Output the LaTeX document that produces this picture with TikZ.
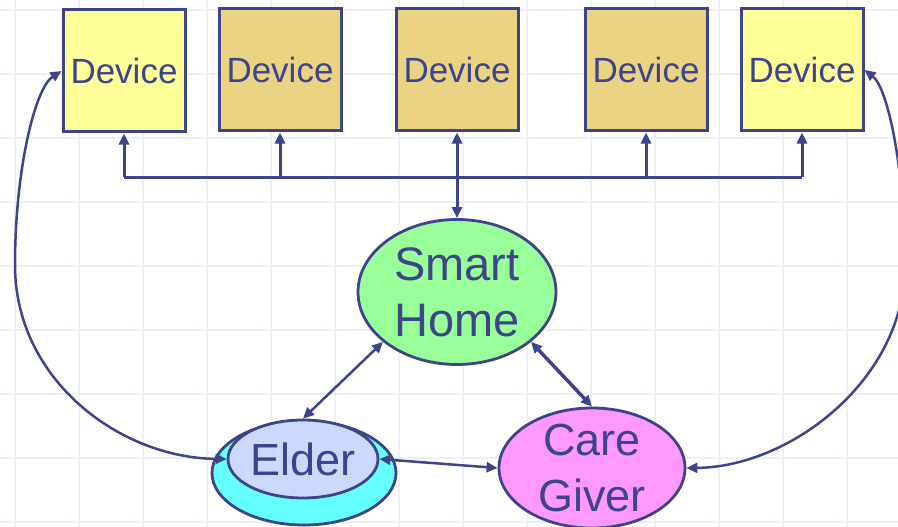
\documentclass[tikz,border=0pt]{standalone}
\usepackage{fontspec}
\setmainfont{Liberation Sans}
\usepackage{xcolor}
\definecolor{ink}{RGB}{62,68,140}
\definecolor{gridline}{RGB}{240,238,250}
\definecolor{devyellow}{RGB}{255,255,153}
\definecolor{devtan}{RGB}{234,212,132}
\definecolor{homegreen}{RGB}{153,255,153}
\definecolor{carepink}{RGB}{255,153,255}
\definecolor{eldercyan}{RGB}{102,255,255}
\definecolor{elderblue}{RGB}{204,217,255}
\usetikzlibrary{arrows.meta,shapes.geometric}

\begin{document}
\begin{tikzpicture}[x=1pt,y=-1pt,
  >={Triangle[length=11pt,width=10pt]},
  device/.style={draw=ink, line width=3pt, minimum width=122pt, minimum height=122pt,
    inner sep=0pt, text=ink, font=\fontsize{35}{40}\selectfont},
  blob/.style={ellipse, draw=ink, line width=2.8pt, inner sep=0pt, text=ink,
    align=center, font=\fontsize{45}{56}\selectfont},
  link/.style={draw=ink, line width=2.5pt}]
\useasboundingbox (0,0) rectangle (898,527);
\clip (0,0) rectangle (898,527);
\fill[white] (0,0) rectangle (898,527);
\foreach \x in {15,79,...,847} \draw[gridline, line width=2pt] (\x,0) -- (\x,527);
\foreach \y in {10,74,...,522} \draw[gridline, line width=2pt] (0,\y) -- (898,\y);

\node[device, fill=devyellow] (dev1) at (124,71) {Device};
\node[device, fill=devtan] (dev2) at (280,70) {Device};
\node[device, fill=devtan] (dev3) at (457,70) {Device};
\node[device, fill=devtan] (dev4) at (646,70) {Device};
\node[device, fill=devyellow] (dev5) at (802,70) {Device};

\node[blob, fill=homegreen, minimum width=198pt, minimum height=145pt,
  font=\fontsize{47}{56}\selectfont] (home) at (457,292) {Smart\\Home};
\node[blob, fill=eldercyan, minimum width=184pt, minimum height=104pt] (elderbg) at (304,473) {};
\node[blob, fill=elderblue, minimum width=150pt, minimum height=78pt] (elder) at (303,459) {Elder};
\node[blob, fill=carepink, minimum width=186pt, minimum height=120pt, inner ysep=-3pt] (care) at (592,468) {Care\\Giver};

\coordinate (bus) at (0,177);
\draw[link, line width=3pt] (dev1.south |- bus) -- (dev5.south |- bus);
\foreach \d in {dev1,dev2,dev4,dev5}
  \draw[link, line width=3pt, ->] (\d.south |- bus) -- (\d.south);
\draw[link, line width=3pt, <->] (dev3.south) -- (home.north);

\draw[link, <->] (home.214) -- (elder.north);
\draw[link, line width=3.5pt, <->] (home.326) -- (care.north);
\draw[link, <->] (elder.east) -- (care.west);

\draw[link, <->] (dev1.west) .. controls (35,88) and (15,170) .. (15,265)
  .. controls (15,380) and (120,458) .. (elder.west);
\draw[link, <->] (dev5.east) .. controls (888,88) and (905,170) .. (905,265)
  .. controls (905,380) and (790,467) .. (care.east);
\end{tikzpicture}
\end{document}
